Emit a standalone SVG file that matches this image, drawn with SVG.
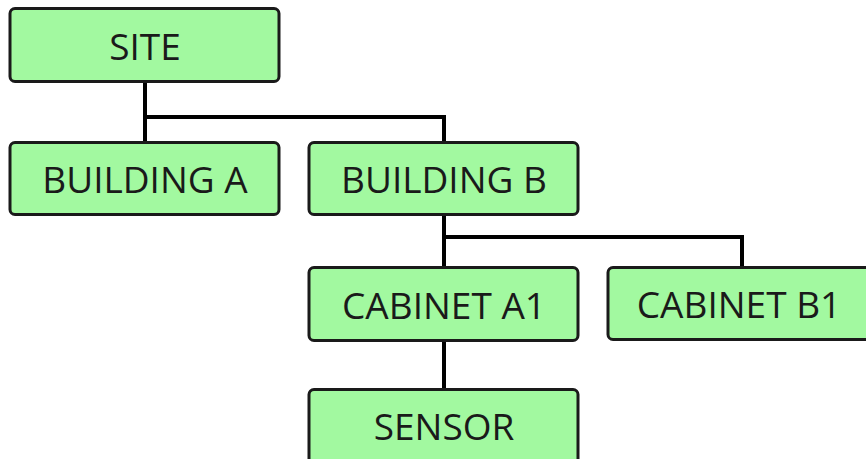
<svg xmlns="http://www.w3.org/2000/svg" width="866" height="459" viewBox="0 0 866 459">
<style>
.box{fill:#a2f9a0;stroke:#1a1a1a;stroke-width:3}
.lbl{font-family:"Open Sans","Liberation Sans",sans-serif;font-size:37px;fill:#1a1a1a;text-anchor:middle;dominant-baseline:central}
.con{fill:none;stroke:#000;stroke-width:4}
</style>
<rect width="866" height="459" fill="#fff"/>
<g id="connectors">
<path class="con" d="M145,82V142M145,117H444V142M444,215V267M444,237H742V267M444,341V389"/>
</g>
<g id="site"><rect class="box" x="10" y="8.5" width="269" height="73" rx="5"/><text class="lbl" x="145" y="45">SITE</text></g>
<g id="building-a"><rect class="box" x="10" y="142.5" width="269" height="72" rx="5"/><text class="lbl" x="145" y="178.5">BUILDING A</text></g>
<g id="building-b"><rect class="box" x="309" y="142.5" width="269" height="72" rx="5"/><text class="lbl" x="444" y="178.5">BUILDING B</text></g>
<g id="cabinet-a1"><rect class="box" x="309" y="267.5" width="269" height="73" rx="5"/><text class="lbl" x="444" y="304">CABINET A1</text></g>
<g id="cabinet-b1"><rect class="box" x="608" y="267.5" width="269" height="72" rx="5"/><text class="lbl" x="739" y="303.5">CABINET B1</text></g>
<g id="sensor"><rect class="box" x="309" y="389.5" width="269" height="80" rx="5"/><text class="lbl" x="444" y="425">SENSOR</text></g>
</svg>
